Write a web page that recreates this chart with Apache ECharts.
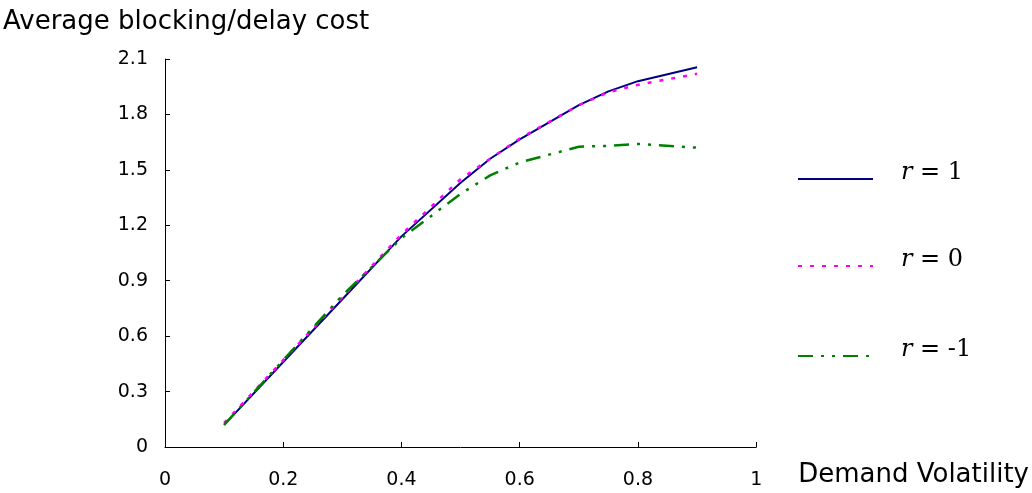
<!DOCTYPE html>
<html>
<head>
<meta charset="utf-8">
<script src="https://cdn.jsdelivr.net/npm/echarts@6/dist/echarts.min.js"></script>
<style>
  html, body { margin: 0; padding: 0; background: #fff; }
  #chart { width: 1032px; height: 493px; }
</style>
</head>
<body>
<div id="chart"></div>
<script>
// demand volatility values on the x axis
const volatility = [0.1, 0.2, 0.3, 0.4, 0.5, 0.55, 0.6, 0.7, 0.75, 0.8, 0.9]
// average blocking/delay cost per correlation r
const costR1 = [0.12, 0.46, 0.80, 1.14, 1.43, 1.56, 1.665, 1.85, 1.925, 1.98, 2.055]
const costR0 = [0.13, 0.47, 0.81, 1.15, 1.45, 1.56, 1.67, 1.85, 1.92, 1.96, 2.02]
const costRm1 = [0.12, 0.47, 0.82, 1.13, 1.37, 1.47, 1.54, 1.625, 1.63, 1.64, 1.62]
const seriesNames = ['r = 1', 'r = 0', 'r = -1']
const xTicks = [0, 0.2, 0.4, 0.6, 0.8, 1]
const yTicks = [0, 0.3, 0.6, 0.9, 1.2, 1.5, 1.8, 2.1]

const pairs = (ys) => volatility.map((x, i) => [x, ys[i]])
const sans = 'DejaVu Sans'

let legendBase = {
  orient: 'vertical',
  left: 797,
  padding: 0,
  itemWidth: 75,
  itemHeight: 14,
  itemStyle: { opacity: 0, borderWidth: 0 },
  formatter: (name) => {
    const rest = name.slice(1)
    return '{i|r}{n|' + rest + '}'
  },
  textStyle: {
    padding: [0, 0, 12, 23],
    rich: {
      i: { fontFamily: 'DejaVu Serif', fontStyle: 'italic', fontSize: 24, color: '#000' },
      n: { fontFamily: 'DejaVu Serif', fontSize: 24, color: '#000' }
    }
  }
}

let options = {
  animation: false,
  title: {
    text: 'Average blocking/delay cost',
    left: 3,
    top: 9,
    padding: 0,
    textStyle: { fontFamily: sans, fontSize: 26, fontWeight: 'normal', color: '#000' }
  },
  legend: [
    Object.assign({}, legendBase, { top: 161, data: [seriesNames[0]] }),
    Object.assign({}, legendBase, { top: 248, data: [seriesNames[1]] }),
    Object.assign({}, legendBase, { top: 338, data: [seriesNames[2]] })
  ],
  grid: {
    left: 165,
    right: 273,
    top: 59,
    bottom: 46
  },
  xAxis: {
    type: 'value',
    min: xTicks[0],
    max: xTicks[xTicks.length - 1],
    interval: 0.2,
    name: 'Demand Volatility',
    nameLocation: 'end',
    nameGap: 42,
    nameTextStyle: {
      fontFamily: sans,
      fontSize: 26,
      color: '#000',
      verticalAlign: 'top',
      padding: [15, 0, 0, 0]
    },
    axisLine: { lineStyle: { color: '#000', width: 1 } },
    axisTick: { inside: true, length: 5, lineStyle: { color: '#000' } },
    axisLabel: {
      margin: 24,
      fontFamily: sans,
      fontSize: 19,
      color: '#000',
      showMinLabel: true,
      showMaxLabel: true
    },
    splitLine: { show: false }
  },
  yAxis: {
    type: 'value',
    min: yTicks[0],
    max: yTicks[yTicks.length - 1],
    interval: 0.3,
    axisLine: { show: true, lineStyle: { color: '#000', width: 1 } },
    axisTick: { show: true, inside: true, length: 5, lineStyle: { color: '#000' } },
    axisLabel: {
      margin: 17,
      fontFamily: sans,
      fontSize: 19,
      color: '#000',
      showMinLabel: true,
      showMaxLabel: true
    },
    splitLine: { show: false }
  },
  series: [
    {
      name: seriesNames[0],
      type: 'line',
      symbol: 'none',
      data: pairs(costR1),
      lineStyle: { color: '#000080', width: 2 },
      itemStyle: { color: '#000080' }
    },
    {
      name: seriesNames[1],
      type: 'line',
      symbol: 'none',
      data: pairs(costR0),
      lineStyle: { color: '#FF00FF', width: 2.5, type: [4, 8] },
      itemStyle: { color: '#FF00FF' }
    },
    {
      name: seriesNames[2],
      type: 'line',
      symbol: 'none',
      data: pairs(costRm1),
      lineStyle: { color: '#008000', width: 2.5, type: [15, 8, 3, 8, 3, 8] },
      itemStyle: { color: '#008000' }
    }
  ]
}

let myChart = echarts.init(document.getElementById('chart'))
myChart.setOption(options)
</script>
</body>
</html>
